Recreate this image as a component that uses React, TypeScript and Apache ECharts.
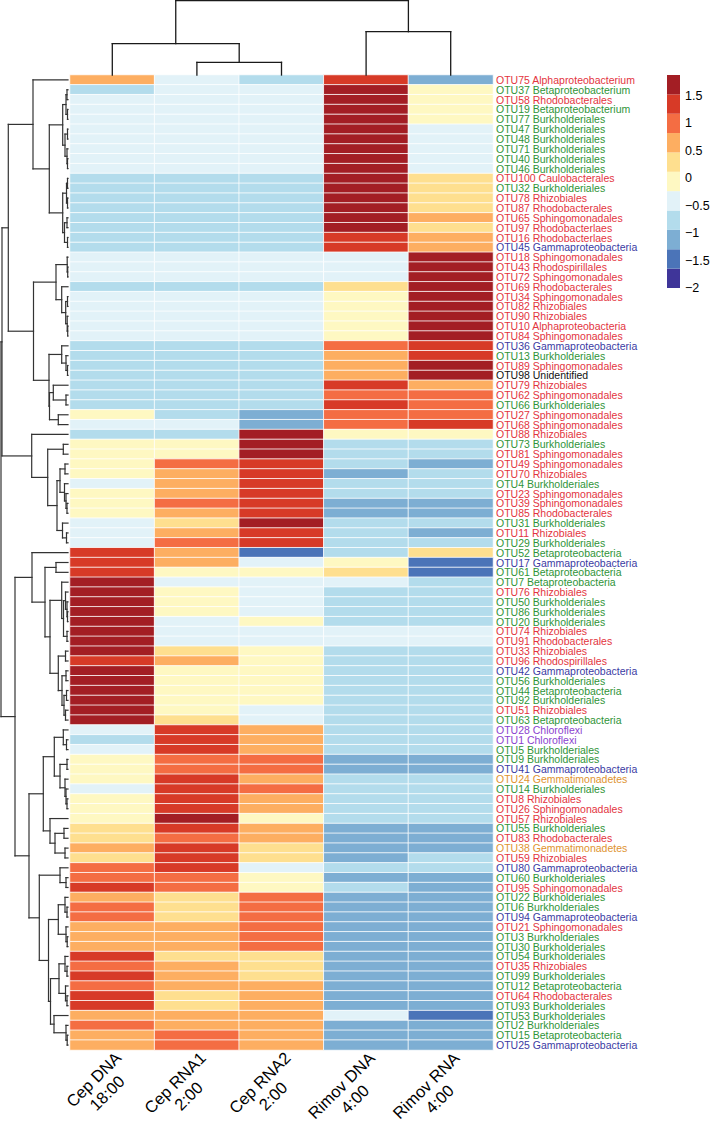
import React, { useEffect, useRef } from "react";
import * as echarts from "echarts";

// ---------- data ----------
const columns = ["Cep DNA\n18:00", "Cep RNA1\n2:00", "Cep RNA2\n2:00", "Rimov DNA\n4:00", "Rimov RNA\n4:00"];

const otuIds = [
  "OTU75", "OTU37", "OTU58", "OTU19", "OTU77", "OTU47", "OTU48", "OTU71", "OTU40", "OTU46",
  "OTU100", "OTU32", "OTU78", "OTU87", "OTU65", "OTU97", "OTU16", "OTU45", "OTU18", "OTU43",
  "OTU72", "OTU69", "OTU34", "OTU82", "OTU90", "OTU10", "OTU84", "OTU36", "OTU13", "OTU89",
  "OTU98", "OTU79", "OTU62", "OTU66", "OTU27", "OTU68", "OTU88", "OTU73", "OTU81", "OTU49",
  "OTU70", "OTU4", "OTU23", "OTU39", "OTU85", "OTU31", "OTU11", "OTU29", "OTU52", "OTU17",
  "OTU61", "OTU7", "OTU76", "OTU50", "OTU86", "OTU20", "OTU74", "OTU91", "OTU33", "OTU96",
  "OTU42", "OTU56", "OTU44", "OTU92", "OTU51", "OTU63", "OTU28", "OTU1", "OTU5", "OTU9",
  "OTU41", "OTU24", "OTU14", "OTU8", "OTU26", "OTU57", "OTU55", "OTU83", "OTU38", "OTU59",
  "OTU80", "OTU60", "OTU95", "OTU22", "OTU6", "OTU94", "OTU21", "OTU3", "OTU30", "OTU54",
  "OTU35", "OTU99", "OTU12", "OTU64", "OTU93", "OTU53", "OTU2", "OTU15", "OTU25",
];

const taxa = [
  "Alphaproteobacterium", "Betaproteobacterium", "Rhodobacterales", "Betaproteobacterium", "Burkholderiales",
  "Burkholderiales", "Burkholderiales", "Burkholderiales", "Burkholderiales", "Burkholderiales",
  "Caulobacterales", "Burkholderiales", "Rhizobiales", "Rhodobacterales", "Sphingomonadales",
  "Rhodobacterlaes", "Rhodobacterlaes", "Gammaproteobacteria", "Sphingomonadales", "Rhodospirillales",
  "Sphingomonadales", "Rhodobacterales", "Sphingomonadales", "Rhizobiales", "Rhizobiales",
  "Alphaproteobacteria", "Sphingomonadales", "Gammaproteobacteria", "Burkholderiales", "Sphingomonadales",
  "Unidentified", "Rhizobiales", "Sphingomonadales", "Burkholderiales", "Sphingomonadales",
  "Sphingomonadales", "Rhizobiales", "Burkholderiales", "Sphingomonadales", "Sphingomonadales",
  "Rhizobiales", "Burkholderiales", "Sphingomonadales", "Sphingomonadales", "Rhodobacterales",
  "Burkholderiales", "Rhizobiales", "Burkholderiales", "Betaproteobacteria", "Gammaproteobacteria",
  "Betaproteobacteria", "Betaproteobacteria", "Rhizobiales", "Burkholderiales", "Burkholderiales",
  "Burkholderiales", "Rhizobiales", "Rhodobacterales", "Rhizobiales", "Rhodospirillales",
  "Gammaproteobacteria", "Burkholderiales", "Betaproteobacteria", "Burkholderiales", "Rhizobiales",
  "Betaproteobacteria", "Chloroflexi", "Chloroflexi", "Burkholderiales", "Burkholderiales",
  "Gammaproteobacteria", "Gemmatimonadetes", "Burkholderiales", "Rhizobiales", "Sphingomonadales",
  "Rhizobiales", "Burkholderiales", "Rhodobacterales", "Gemmatimonadetes", "Rhizobiales",
  "Gammaproteobacteria", "Burkholderiales", "Sphingomonadales", "Burkholderiales", "Burkholderiales",
  "Gammaproteobacteria", "Sphingomonadales", "Burkholderiales", "Burkholderiales", "Burkholderiales",
  "Rhizobiales", "Burkholderiales", "Betaproteobacteria", "Rhodobacterales", "Burkholderiales",
  "Burkholderiales", "Burkholderiales", "Betaproteobacteria", "Gammaproteobacteria",
];

// scaled abundance per sample (row order as above)
const cepDNA = [
  0.65, -0.76, -0.41, -0.41, -0.41, -0.41, -0.41, -0.41, -0.41, -0.41,
  -0.76, -0.76, -0.76, -0.76, -0.76, -0.76, -0.76, -0.76, -0.41, -0.41,
  -0.41, -0.76, -0.41, -0.41, -0.41, -0.41, -0.41, -0.76, -0.76, -0.76,
  -0.76, -0.76, -0.76, -0.76, -0.06, -0.41, -0.76, -0.06, -0.06, -0.06,
  -0.06, -0.41, -0.06, -0.06, -0.06, -0.41, -0.41, -0.41, 1.35, 1.35,
  1.35, 1.7, 1.7, 1.7, 1.7, 1.7, 1.7, 1.7, 1.7, 1.35,
  1.7, 1.7, 1.7, 1.7, 1.7, 1.7, -0.41, -0.76, -0.41, -0.06,
  -0.06, -0.06, -0.41, -0.06, -0.06, -0.06, 0.29, 0.29, 0.65, 0.29,
  1.0, 1.0, 1.35, 0.65, 1.0, 1.0, 0.65, 0.65, 0.65, 1.35,
  1.0, 1.35, 1.0, 1.35, 1.35, 0.65, 1.0, 0.65, 0.65,
];
const cepRNA1 = [
  -0.41, -0.41, -0.41, -0.41, -0.41, -0.41, -0.41, -0.41, -0.41, -0.41,
  -0.76, -0.76, -0.76, -0.76, -0.76, -0.76, -0.76, -0.76, -0.41, -0.41,
  -0.41, -0.76, -0.41, -0.41, -0.41, -0.41, -0.41, -0.76, -0.76, -0.76,
  -0.76, -0.76, -0.76, -0.76, -0.76, -0.41, -0.76, -0.06, -0.06, 1.0,
  0.65, 0.65, 0.65, 1.0, 0.65, 0.29, 0.65, 1.0, 0.65, 0.65,
  -0.06, -0.41, -0.06, -0.06, -0.06, -0.41, -0.41, -0.41, 0.29, 0.65,
  -0.06, -0.06, -0.06, -0.06, -0.06, 0.29, 1.35, 1.35, 1.35, 1.0,
  1.0, 1.35, 1.35, 1.35, 1.35, 1.7, 1.35, 1.0, 1.35, 1.35,
  1.35, 1.0, 1.0, 0.29, 0.29, 0.29, 0.65, 0.65, 0.65, 0.29,
  0.65, 0.65, 0.65, 0.29, 0.29, 0.65, 0.65, 1.0, 1.0,
];
const cepRNA2 = [
  -0.76, -0.41, -0.41, -0.41, -0.41, -0.41, -0.41, -0.41, -0.41, -0.41,
  -0.76, -0.76, -0.76, -0.76, -0.76, -0.76, -0.76, -0.76, -0.41, -0.41,
  -0.41, -0.76, -0.41, -0.41, -0.41, -0.41, -0.41, -0.76, -0.76, -0.76,
  -0.76, -0.76, -0.76, -0.76, -1.12, -1.12, 1.7, 1.7, 1.7, 1.35,
  1.35, 1.35, 1.35, 1.35, 1.35, 1.7, 1.35, 1.35, -1.47, -0.41,
  -0.06, -0.41, -0.41, -0.41, -0.41, -0.06, -0.41, -0.41, -0.06, -0.06,
  -0.06, -0.06, -0.06, -0.06, -0.41, -0.41, 0.65, 0.65, 0.65, 1.0,
  1.0, 0.65, 1.0, 0.65, 0.65, -0.06, 0.65, 0.65, 0.29, 0.29,
  -0.41, -0.06, -0.06, 1.0, 1.0, 1.0, 1.0, 1.0, 1.0, 0.29,
  0.29, 0.29, 0.65, 0.65, 0.65, 0.65, 0.65, 0.65, 0.65,
];
const rimovDNA = [
  1.35, 1.7, 1.7, 1.7, 1.7, 1.7, 1.7, 1.7, 1.7, 1.7,
  1.7, 1.7, 1.7, 1.7, 1.7, 1.7, 1.35, 1.35, -0.41, -0.41,
  -0.41, 0.29, -0.06, -0.06, -0.06, -0.06, -0.06, 1.0, 0.65, 0.65,
  0.65, 1.35, 1.0, 1.35, 1.0, 1.0, -0.06, -0.76, -0.76, -0.76,
  -1.12, -0.76, -0.76, -1.12, -1.12, -0.76, -0.76, -0.76, -0.76, -0.06,
  0.29, -0.41, -0.76, -0.76, -0.76, -0.76, -0.41, -0.41, -0.76, -0.76,
  -0.76, -0.76, -0.76, -0.76, -0.76, -0.76, -0.76, -0.76, -0.76, -1.12,
  -1.12, -0.76, -0.76, -0.76, -0.76, -0.76, -1.12, -1.12, -1.12, -1.12,
  -0.76, -1.12, -0.76, -1.12, -1.12, -1.12, -1.12, -1.12, -1.12, -1.12,
  -1.12, -1.12, -1.12, -1.12, -1.12, -0.41, -1.12, -1.12, -1.12,
];
const rimovRNA = [
  -1.12, -0.06, -0.06, -0.06, -0.06, -0.41, -0.41, -0.41, -0.41, -0.41,
  0.29, 0.29, 0.29, 0.29, 0.65, 0.29, 0.65, 0.65, 1.7, 1.7,
  1.7, 1.7, 1.7, 1.7, 1.7, 1.7, 1.7, 1.35, 1.35, 1.7,
  1.7, 0.65, 1.0, 1.0, 1.0, 1.35, -0.06, -0.76, -0.76, -1.12,
  -0.76, -0.76, -0.76, -1.12, -1.12, -0.76, -1.12, -0.76, 0.29, -1.47,
  -1.47, -0.76, -0.76, -0.76, -0.76, -0.76, -0.41, -0.41, -0.76, -0.76,
  -0.76, -0.76, -0.76, -0.76, -0.76, -0.76, -0.76, -0.76, -0.76, -1.12,
  -1.12, -0.76, -0.76, -0.76, -0.76, -0.76, -1.12, -1.12, -1.12, -0.76,
  -0.76, -1.12, -1.12, -1.12, -1.12, -1.12, -1.12, -1.12, -1.12, -1.12,
  -1.12, -1.12, -1.12, -1.12, -1.12, -1.47, -1.12, -1.12, -1.12,
];

// colour key: 11 bins
const legendBreaks = [-2, -1.647, -1.294, -0.941, -0.588, -0.235, 0.118, 0.471, 0.824, 1.176, 1.529, 1.882];
const legendColors = [
  "#3F3599", "#4B74B8", "#7DAED3", "#B3DCEC", "#E2F2F8", "#FEF8C2",
  "#FEDF8F", "#FDAE61", "#F46D43", "#D73A27", "#A31E24",
];
const legendTicks = [-2, -1.5, -1, -0.5, 0, 0.5, 1, 1.5];

// label colour by taxonomic group
const taxonGroup: Record<string, string> = {
  Alphaproteobacterium: "alpha", Alphaproteobacteria: "alpha", Rhodobacterales: "alpha",
  Rhodobacterlaes: "alpha", Caulobacterales: "alpha", Rhizobiales: "alpha",
  Sphingomonadales: "alpha", Rhodospirillales: "alpha",
  Betaproteobacterium: "beta", Betaproteobacteria: "beta", Burkholderiales: "beta",
  Gammaproteobacteria: "gamma", Chloroflexi: "chloro", Gemmatimonadetes: "gemma",
  Unidentified: "other",
};
const groupColors: Record<string, string> = {
  alpha: "#E3343E", beta: "#2F9438", gamma: "#3B3BA3", chloro: "#8B3FCF", gemma: "#E0932F", other: "#111111",
};

// column dendrogram: [left, right, height], leaves = column number (1-based)
const colTree: any = [[1, [2, 3, 12.7], 31.3], [4, 5, 43.3], 74.3];

// row dendrogram: [left, right, height], leaves = row number (1 = top row)
const rowTree: any = [
  [
    [
      [1, [
        [[[2, 3, 1], [4, 5, 0.5], 2], [[6, 7, 0.5], [8, [9, 10, 0.5], 1], 3], 5.3],
        [[[11, 12, 0.5], [13, 14, 0.5], 1.5], [[15, 16, 1], [17, 18, 0.5], 3.5], 5.3],
        18.7], 35],
      [
        [[19, [20, 21, 0.3], 0.8], [22, [[23, 24, 0.5], [25, [26, 27, 0.3], 0.8], 2.3], 6.3], 12],
        [[28, [29, [30, 31, 0.5], 2], 6.3], [[32, [33, 34, 2], 14.7], [35, 36, 9.7], 18.5], 19],
        34.5],
      59.7],
    [37, [[38, 39, 4.7], [[[40, 41, 3], [42, [43, [44, 45, 1], 2], 3.5], 8], [46, [47, 48, 1.5], 5.5], 11], 20.3], 36.3],
    66],
  [
    [49, [[50, 51, 12], [
      [52, [[53, [54, [55, 56, 0.5], 1], 2.5], [57, 58, 1], 4.5], 6.3],
      [[59, 60, 2.5], [[61, 62, 2], [[63, 64, 1.5], [65, 66, 2.5], 4], 6], 9.7],
      18], 23], 36],
    [
      [
        [[67, [68, 69, 1.5], 4.7], [[70, 71, 1], [72, [73, [74, 75, 1], 2], 3], 8], 13.7],
        [76, [[77, 78, 4], [79, 80, 3], 13], 18],
        24.7],
      [
        [81, [82, 83, 2], 8],
        [[[84, [85, 86, 1], 3], [87, [88, 89, 0.8], 2], 9.7],
          [[[90, [91, 92, 1], 3], [93, [94, 95, 1], 2.5], 9], [96, [97, [98, 99, 0.8], 2], 14], 17.5], 19.5],
        28.7],
      39],
    53],
  67];

// ---------- helpers ----------
function buildSegments(tree: any, segs: number[][]): { pos: number; h: number } {
  if (typeof tree === "number") return { pos: tree - 1, h: 0 };
  const [l, r, h] = tree;
  const a = buildSegments(l, segs);
  const b = buildSegments(r, segs);
  segs.push([a.pos, a.h, a.pos, h], [b.pos, b.h, b.pos, h], [a.pos, h, b.pos, h]);
  return { pos: (a.pos + b.pos) / 2, h };
}

function measure(text: string, font: string): number {
  const c = document.createElement("canvas").getContext("2d");
  if (!c) return text.length * 9;
  c.font = font;
  return c.measureText(text).width;
}

const FONT = "'Liberation Sans', Arial, Helvetica, sans-serif";

export default function App() {
  const ref = useRef<HTMLDivElement>(null);

  useEffect(() => {
    document.body.style.margin = "0";
    if (!ref.current) return;
    const chart = echarts.init(ref.current, null, { renderer: "svg" });

    const rowLabels = otuIds.map((id, i) => `${id} ${taxa[i]}`);
    const samples = [cepDNA, cepRNA1, cepRNA2, rimovDNA, rimovRNA];
    const heatData: number[][] = [];
    samples.forEach((col, c) => col.forEach((v, r) => heatData.push([c, r, v])));

    const colSegs: number[][] = [];
    buildSegments(colTree, colSegs);
    const rowSegsRaw: number[][] = [];
    buildSegments(rowTree, rowSegsRaw);
    // for the row tree: x = height, y = row position
    const rowSegs = rowSegsRaw.map(([p1, h1, p2, h2]) => [h1, p1, h2, p2]);

    const legendData = legendColors.map((_, i) => [legendBreaks[i], legendBreaks[i + 1], i]);

    const richRows: Record<string, any> = {};
    Object.keys(groupColors).forEach((g) => {
      richRows[g] = { color: groupColors[g], fontSize: 10.5, fontFamily: FONT };
    });

    const colFontSize = 16.5;
    const richCols: Record<string, any> = {};
    columns.forEach((c, i) => {
      const w = Math.max(...c.split("\n").map((s) => measure(s, `${colFontSize}px ${FONT}`)));
      richCols["c" + i] = { width: Math.ceil(w) + 1, align: "center", fontSize: colFontSize, lineHeight: 19, fontFamily: FONT, color: "#000" };
    });

    const segRender = (color: string, width: number) => (params: any, api: any) => {
      const p1 = api.coord([api.value(0), api.value(1)]);
      const p2 = api.coord([api.value(2), api.value(3)]);
      return {
        type: "line",
        shape: { x1: p1[0], y1: p1[1], x2: p2[0], y2: p2[1] },
        style: { stroke: color, lineWidth: width, lineCap: "square" },
      };
    };

    const gridBase = { containLabel: false, outerBoundsMode: "none" };

    chart.setOption({
      animation: false,
      backgroundColor: "#ffffff",
      textStyle: { fontFamily: FONT },
      grid: [
        { ...gridBase, left: 70, top: 75, width: 423, height: 975 },
        { ...gridBase, left: 70, top: 0, width: 423, height: 75 },
        { ...gridBase, left: 0, top: 75, width: 68, height: 975 },
        { ...gridBase, left: 667, top: 75, width: 13, height: 213 },
        { ...gridBase, left: 83, top: 75, width: 423, height: 975 },
      ],
      xAxis: [
        { gridIndex: 0, type: "category", data: columns, axisLine: { show: false }, axisTick: { show: false }, axisLabel: { show: false }, splitLine: { show: false } },
        { gridIndex: 1, type: "value", min: -0.5, max: 4.5, show: false },
        { gridIndex: 2, type: "value", min: 0, max: 68, inverse: true, show: false },
        { gridIndex: 3, type: "value", min: 0, max: 1, show: false },
        {
          gridIndex: 4, type: "category", data: columns,
          axisLine: { show: false }, axisTick: { show: false }, splitLine: { show: false },
          axisLabel: {
            interval: 0, rotate: 45, margin: 11, hideOverlap: false,
            fontSize: colFontSize, lineHeight: 19, color: "#000", fontFamily: FONT,
            formatter: (v: string, idx: number) => v.split("\n").map((s) => `{c${idx}|${s}}`).join("\n"),
            rich: richCols,
          },
        },
      ],
      yAxis: [
        {
          gridIndex: 0, type: "category", data: rowLabels, inverse: true, position: "right",
          axisLine: { show: false }, axisTick: { show: false }, splitLine: { show: false },
          axisLabel: {
            interval: 0, margin: 3, fontSize: 10.5, fontFamily: FONT,
            formatter: (v: string) => {
              const t = v.slice(v.indexOf(" ") + 1);
              const g = taxonGroup[t] || "other";
              return `{${g}|${v}}`;
            },
            rich: richRows,
          },
        },
        { gridIndex: 1, type: "value", min: 0, max: 75, show: false },
        { gridIndex: 2, type: "value", min: -0.5, max: 98.5, inverse: true, show: false },
        {
          gridIndex: 3, type: "value", min: -2, max: 1.882, interval: 0.5, position: "right",
          axisLine: { show: false }, axisTick: { show: false }, splitLine: { show: false },
          axisLabel: {
            margin: 5, fontSize: 12.5, color: "#000", fontFamily: FONT, showMaxLabel: false,
            formatter: (v: number) => (legendTicks.some((t) => Math.abs(t - v) < 1e-6) ? String(v).replace("-", "\u2212") : ""),
          },
        },
        { gridIndex: 4, type: "value", show: false },
      ],
      visualMap: {
        type: "piecewise", show: false, seriesIndex: 0, dimension: 2,
        pieces: legendColors.map((c, i) => ({ gte: legendBreaks[i], lt: legendBreaks[i + 1], color: c })),
      },
      series: [
        {
          type: "heatmap", xAxisIndex: 0, yAxisIndex: 0, data: heatData,
          itemStyle: { borderColor: "#ffffff", borderWidth: 0.8 },
          emphasis: { disabled: true },
        },
        {
          type: "custom", xAxisIndex: 1, yAxisIndex: 1, data: colSegs, clip: false,
          renderItem: segRender("#1a1a1a", 1.3),
        },
        {
          type: "custom", xAxisIndex: 2, yAxisIndex: 2, data: rowSegs, clip: false,
          renderItem: segRender("#333333", 1.2),
        },
        {
          type: "custom", xAxisIndex: 3, yAxisIndex: 3, data: legendData,
          renderItem: (params: any, api: any) => {
            const p1 = api.coord([0, api.value(0)]);
            const p2 = api.coord([1, api.value(1)]);
            return {
              type: "rect",
              shape: { x: p1[0], y: p2[1], width: p2[0] - p1[0], height: p1[1] - p2[1] },
              style: { fill: legendColors[api.value(2)] },
            };
          },
        },
      ],
    });

    return () => chart.dispose();
  }, []);

  return <div ref={ref} style={{ width: 710, height: 1125 }} />;
}
